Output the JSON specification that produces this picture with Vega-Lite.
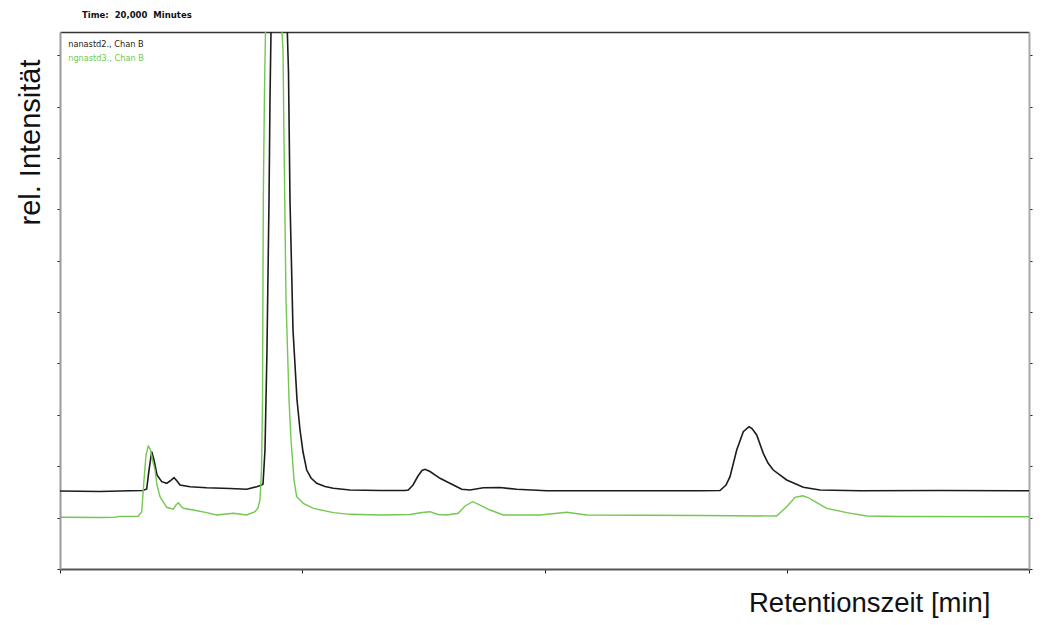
{
  "$schema": "https://vega.github.io/schema/vega-lite/v6.json",
  "width": 969,
  "height": 537,
  "autosize": {"type": "none"},
  "padding": {"left": 60, "top": 32, "right": 22, "bottom": 56},
  "background": "white",
  "config": {
    "view": {"stroke": null},
    "font": "Liberation Sans"
  },
  "title": {
    "text": "Time:\u00a0\u00a020,000\u00a0\u00a0Minutes",
    "anchor": "start",
    "frame": "group",
    "dx": 22,
    "offset": 6,
    "baseline": "alphabetic",
    "fontSize": 8.5,
    "fontWeight": "bold",
    "font": "DejaVu Sans",
    "color": "#111"
  },
  "datasets": {
    "traces": [
      {"t": 0.0, "v": 1.518, "s": "nanastd2., Chan B"},
      {"t": 0.826, "v": 1.508, "s": "nanastd2., Chan B"},
      {"t": 1.445, "v": 1.524, "s": "nanastd2., Chan B"},
      {"t": 1.713, "v": 1.528, "s": "nanastd2., Chan B"},
      {"t": 1.789, "v": 1.557, "s": "nanastd2., Chan B"},
      {"t": 1.837, "v": 1.926, "s": "nanastd2., Chan B"},
      {"t": 1.893, "v": 2.283, "s": "nanastd2., Chan B"},
      {"t": 1.94, "v": 2.121, "s": "nanastd2., Chan B"},
      {"t": 2.002, "v": 1.829, "s": "nanastd2., Chan B"},
      {"t": 2.099, "v": 1.699, "s": "nanastd2., Chan B"},
      {"t": 2.202, "v": 1.668, "s": "nanastd2., Chan B"},
      {"t": 2.27, "v": 1.712, "s": "nanastd2., Chan B"},
      {"t": 2.353, "v": 1.777, "s": "nanastd2., Chan B"},
      {"t": 2.415, "v": 1.712, "s": "nanastd2., Chan B"},
      {"t": 2.477, "v": 1.635, "s": "nanastd2., Chan B"},
      {"t": 2.683, "v": 1.602, "s": "nanastd2., Chan B"},
      {"t": 3.028, "v": 1.582, "s": "nanastd2., Chan B"},
      {"t": 3.509, "v": 1.566, "s": "nanastd2., Chan B"},
      {"t": 3.853, "v": 1.551, "s": "nanastd2., Chan B"},
      {"t": 4.06, "v": 1.601, "s": "nanastd2., Chan B"},
      {"t": 4.163, "v": 1.635, "s": "nanastd2., Chan B"},
      {"t": 4.19, "v": 1.654, "s": "nanastd2., Chan B"},
      {"t": 4.231, "v": 2.316, "s": "nanastd2., Chan B"},
      {"t": 4.272, "v": 4.262, "s": "nanastd2., Chan B"},
      {"t": 4.314, "v": 7.18, "s": "nanastd2., Chan B"},
      {"t": 4.334, "v": 9.126, "s": "nanastd2., Chan B"},
      {"t": 4.355, "v": 10.45, "s": "nanastd2., Chan B"},
      {"t": 4.52, "v": 14.0, "s": "nanastd2., Chan B"},
      {"t": 4.685, "v": 10.68, "s": "nanastd2., Chan B"},
      {"t": 4.716, "v": 9.671, "s": "nanastd2., Chan B"},
      {"t": 4.747, "v": 7.18, "s": "nanastd2., Chan B"},
      {"t": 4.809, "v": 4.651, "s": "nanastd2., Chan B"},
      {"t": 4.892, "v": 3.289, "s": "nanastd2., Chan B"},
      {"t": 4.954, "v": 2.705, "s": "nanastd2., Chan B"},
      {"t": 5.016, "v": 2.277, "s": "nanastd2., Chan B"},
      {"t": 5.092, "v": 1.926, "s": "nanastd2., Chan B"},
      {"t": 5.181, "v": 1.771, "s": "nanastd2., Chan B"},
      {"t": 5.298, "v": 1.668, "s": "nanastd2., Chan B"},
      {"t": 5.47, "v": 1.605, "s": "nanastd2., Chan B"},
      {"t": 5.641, "v": 1.57, "s": "nanastd2., Chan B"},
      {"t": 5.986, "v": 1.537, "s": "nanastd2., Chan B"},
      {"t": 6.605, "v": 1.528, "s": "nanastd2., Chan B"},
      {"t": 7.121, "v": 1.528, "s": "nanastd2., Chan B"},
      {"t": 7.189, "v": 1.537, "s": "nanastd2., Chan B"},
      {"t": 7.286, "v": 1.635, "s": "nanastd2., Chan B"},
      {"t": 7.389, "v": 1.81, "s": "nanastd2., Chan B"},
      {"t": 7.472, "v": 1.917, "s": "nanastd2., Chan B"},
      {"t": 7.534, "v": 1.94, "s": "nanastd2., Chan B"},
      {"t": 7.637, "v": 1.897, "s": "nanastd2., Chan B"},
      {"t": 7.843, "v": 1.765, "s": "nanastd2., Chan B"},
      {"t": 8.118, "v": 1.635, "s": "nanastd2., Chan B"},
      {"t": 8.291, "v": 1.551, "s": "nanastd2., Chan B"},
      {"t": 8.462, "v": 1.537, "s": "nanastd2., Chan B"},
      {"t": 8.737, "v": 1.582, "s": "nanastd2., Chan B"},
      {"t": 9.082, "v": 1.586, "s": "nanastd2., Chan B"},
      {"t": 9.426, "v": 1.551, "s": "nanastd2., Chan B"},
      {"t": 10.045, "v": 1.524, "s": "nanastd2., Chan B"},
      {"t": 11.146, "v": 1.522, "s": "nanastd2., Chan B"},
      {"t": 13.21, "v": 1.524, "s": "nanastd2., Chan B"},
      {"t": 13.622, "v": 1.528, "s": "nanastd2., Chan B"},
      {"t": 13.746, "v": 1.635, "s": "nanastd2., Chan B"},
      {"t": 13.829, "v": 1.796, "s": "nanastd2., Chan B"},
      {"t": 13.967, "v": 2.316, "s": "nanastd2., Chan B"},
      {"t": 14.103, "v": 2.672, "s": "nanastd2., Chan B"},
      {"t": 14.221, "v": 2.769, "s": "nanastd2., Chan B"},
      {"t": 14.283, "v": 2.734, "s": "nanastd2., Chan B"},
      {"t": 14.38, "v": 2.608, "s": "nanastd2., Chan B"},
      {"t": 14.516, "v": 2.251, "s": "nanastd2., Chan B"},
      {"t": 14.613, "v": 2.063, "s": "nanastd2., Chan B"},
      {"t": 14.722, "v": 1.926, "s": "nanastd2., Chan B"},
      {"t": 14.999, "v": 1.732, "s": "nanastd2., Chan B"},
      {"t": 15.341, "v": 1.59, "s": "nanastd2., Chan B"},
      {"t": 15.686, "v": 1.537, "s": "nanastd2., Chan B"},
      {"t": 16.512, "v": 1.524, "s": "nanastd2., Chan B"},
      {"t": 18.163, "v": 1.528, "s": "nanastd2., Chan B"},
      {"t": 20.0, "v": 1.522, "s": "nanastd2., Chan B"},

      {"t": 0.02, "v": 1.006, "s": "ngnastd3., Chan B"},
      {"t": 0.826, "v": 1.002, "s": "ngnastd3., Chan B"},
      {"t": 1.135, "v": 1.008, "s": "ngnastd3., Chan B"},
      {"t": 1.238, "v": 1.025, "s": "ngnastd3., Chan B"},
      {"t": 1.61, "v": 1.025, "s": "ngnastd3., Chan B"},
      {"t": 1.686, "v": 1.109, "s": "ngnastd3., Chan B"},
      {"t": 1.734, "v": 1.732, "s": "ngnastd3., Chan B"},
      {"t": 1.775, "v": 2.218, "s": "ngnastd3., Chan B"},
      {"t": 1.822, "v": 2.393, "s": "ngnastd3., Chan B"},
      {"t": 1.868, "v": 2.316, "s": "ngnastd3., Chan B"},
      {"t": 1.92, "v": 2.082, "s": "ngnastd3., Chan B"},
      {"t": 1.961, "v": 1.926, "s": "ngnastd3., Chan B"},
      {"t": 2.002, "v": 1.635, "s": "ngnastd3., Chan B"},
      {"t": 2.064, "v": 1.407, "s": "ngnastd3., Chan B"},
      {"t": 2.202, "v": 1.201, "s": "ngnastd3., Chan B"},
      {"t": 2.338, "v": 1.162, "s": "ngnastd3., Chan B"},
      {"t": 2.394, "v": 1.245, "s": "ngnastd3., Chan B"},
      {"t": 2.442, "v": 1.29, "s": "ngnastd3., Chan B"},
      {"t": 2.497, "v": 1.226, "s": "ngnastd3., Chan B"},
      {"t": 2.545, "v": 1.181, "s": "ngnastd3., Chan B"},
      {"t": 2.751, "v": 1.148, "s": "ngnastd3., Chan B"},
      {"t": 3.028, "v": 1.096, "s": "ngnastd3., Chan B"},
      {"t": 3.234, "v": 1.051, "s": "ngnastd3., Chan B"},
      {"t": 3.577, "v": 1.084, "s": "ngnastd3., Chan B"},
      {"t": 3.853, "v": 1.051, "s": "ngnastd3., Chan B"},
      {"t": 4.025, "v": 1.115, "s": "ngnastd3., Chan B"},
      {"t": 4.087, "v": 1.187, "s": "ngnastd3., Chan B"},
      {"t": 4.128, "v": 1.343, "s": "ngnastd3., Chan B"},
      {"t": 4.159, "v": 1.926, "s": "ngnastd3., Chan B"},
      {"t": 4.18, "v": 3.289, "s": "ngnastd3., Chan B"},
      {"t": 4.196, "v": 7.18, "s": "ngnastd3., Chan B"},
      {"t": 4.221, "v": 9.321, "s": "ngnastd3., Chan B"},
      {"t": 4.241, "v": 10.45, "s": "ngnastd3., Chan B"},
      {"t": 4.396, "v": 14.0, "s": "ngnastd3., Chan B"},
      {"t": 4.572, "v": 10.59, "s": "ngnastd3., Chan B"},
      {"t": 4.603, "v": 10.1, "s": "ngnastd3., Chan B"},
      {"t": 4.623, "v": 8.348, "s": "ngnastd3., Chan B"},
      {"t": 4.665, "v": 5.234, "s": "ngnastd3., Chan B"},
      {"t": 4.727, "v": 3.289, "s": "ngnastd3., Chan B"},
      {"t": 4.768, "v": 2.51, "s": "ngnastd3., Chan B"},
      {"t": 4.83, "v": 1.732, "s": "ngnastd3., Chan B"},
      {"t": 4.885, "v": 1.407, "s": "ngnastd3., Chan B"},
      {"t": 5.022, "v": 1.278, "s": "ngnastd3., Chan B"},
      {"t": 5.228, "v": 1.181, "s": "ngnastd3., Chan B"},
      {"t": 5.641, "v": 1.096, "s": "ngnastd3., Chan B"},
      {"t": 5.986, "v": 1.064, "s": "ngnastd3., Chan B"},
      {"t": 6.605, "v": 1.051, "s": "ngnastd3., Chan B"},
      {"t": 7.224, "v": 1.061, "s": "ngnastd3., Chan B"},
      {"t": 7.472, "v": 1.099, "s": "ngnastd3., Chan B"},
      {"t": 7.637, "v": 1.115, "s": "ngnastd3., Chan B"},
      {"t": 7.802, "v": 1.061, "s": "ngnastd3., Chan B"},
      {"t": 7.981, "v": 1.051, "s": "ngnastd3., Chan B"},
      {"t": 8.221, "v": 1.084, "s": "ngnastd3., Chan B"},
      {"t": 8.359, "v": 1.226, "s": "ngnastd3., Chan B"},
      {"t": 8.518, "v": 1.31, "s": "ngnastd3., Chan B"},
      {"t": 8.669, "v": 1.245, "s": "ngnastd3., Chan B"},
      {"t": 8.875, "v": 1.148, "s": "ngnastd3., Chan B"},
      {"t": 9.15, "v": 1.051, "s": "ngnastd3., Chan B"},
      {"t": 9.907, "v": 1.051, "s": "ngnastd3., Chan B"},
      {"t": 10.32, "v": 1.09, "s": "ngnastd3., Chan B"},
      {"t": 10.458, "v": 1.103, "s": "ngnastd3., Chan B"},
      {"t": 10.871, "v": 1.051, "s": "ngnastd3., Chan B"},
      {"t": 13.21, "v": 1.041, "s": "ngnastd3., Chan B"},
      {"t": 14.793, "v": 1.031, "s": "ngnastd3., Chan B"},
      {"t": 14.881, "v": 1.109, "s": "ngnastd3., Chan B"},
      {"t": 14.999, "v": 1.212, "s": "ngnastd3., Chan B"},
      {"t": 15.17, "v": 1.395, "s": "ngnastd3., Chan B"},
      {"t": 15.329, "v": 1.426, "s": "ngnastd3., Chan B"},
      {"t": 15.439, "v": 1.391, "s": "ngnastd3., Chan B"},
      {"t": 15.548, "v": 1.329, "s": "ngnastd3., Chan B"},
      {"t": 15.825, "v": 1.181, "s": "ngnastd3., Chan B"},
      {"t": 16.237, "v": 1.096, "s": "ngnastd3., Chan B"},
      {"t": 16.65, "v": 1.031, "s": "ngnastd3., Chan B"},
      {"t": 17.337, "v": 1.022, "s": "ngnastd3., Chan B"},
      {"t": 20.0, "v": 1.016, "s": "ngnastd3., Chan B"}
    ]
  },
  "data": {"name": "traces"},
  "resolve": {"axis": {"x": "independent", "y": "independent"}},
  "layer": [
    {
      "transform": [{"filter": "datum.s === 'nanastd2., Chan B'"}],
      "mark": {"type": "line", "clip": true, "strokeWidth": 1.6, "interpolate": "linear"},
      "encoding": {
        "x": {
          "field": "t", "type": "quantitative",
          "scale": {"domain": [0, 20], "nice": false, "zero": false},
          "axis": {
            "orient": "bottom",
            "values": [0, 5, 10, 15, 20],
            "labels": false,
            "grid": false,
            "domainColor": "#555555", "domainWidth": 2,
            "tickColor": "#222222", "tickSize": 4, "tickWidth": 1,
            "title": "Retentionszeit [min]",
            "titleFont": "Liberation Sans", "titleFontSize": 27.5, "titleFontWeight": "normal",
            "titleColor": "#111111",
            "titleAnchor": "end", "titleAlign": "right", "titleBaseline": "alphabetic",
            "titleX": 930, "titleY": 42
          }
        },
        "y": {
          "field": "v", "type": "quantitative",
          "scale": {"domain": [0, 10.45], "nice": false, "zero": false},
          "axis": {
            "orient": "left",
            "values": [0, 1, 2, 3, 4, 5, 6, 7, 8, 9, 10],
            "labels": false,
            "grid": false,
            "domainColor": "#9a9a9a", "domainWidth": 2,
            "tickColor": "#222222", "tickSize": 3, "tickWidth": 1,
            "title": "rel. Intensität",
            "titleFont": "Liberation Sans", "titleFontSize": 29, "titleFontWeight": "normal",
            "titleColor": "#111111",
            "titleAngle": -90, "titleAlign": "center", "titleBaseline": "alphabetic",
            "titleX": -21, "titleY": 110
          }
        },
        "color": {
          "field": "s", "type": "nominal",
          "scale": {"domain": ["nanastd2., Chan B", "ngnastd3., Chan B"], "range": ["#1c1c1c", "#72c850"]},
          "legend": {
            "title": null,
            "orient": "none",
            "legendX": 0,
            "legendY": 9,
            "padding": 0,
            "symbolSize": 0,
            "symbolOpacity": 0,
            "symbolStrokeWidth": 0,
            "labelOffset": 0,
            "labelFont": "DejaVu Sans",
            "labelFontSize": 8.2,
            "rowPadding": 4.5,
            "encode": {"labels": {"update": {"fill": {"scale": "color", "field": "value"}}}}
          }
        }
      }
    },
    {
      "transform": [{"filter": "datum.s === 'ngnastd3., Chan B'"}],
      "mark": {"type": "line", "clip": true, "strokeWidth": 1.4, "interpolate": "linear"},
      "encoding": {
        "x": {
          "field": "t", "type": "quantitative",
          "axis": {
            "orient": "top",
            "labels": false, "ticks": false, "grid": false,
            "domainColor": "#333333", "domainWidth": 1.5,
            "title": null
          }
        },
        "y": {
          "field": "v", "type": "quantitative",
          "axis": {
            "orient": "right",
            "values": [0, 1, 2, 3, 4, 5, 6, 7, 8, 9, 10],
            "labels": false, "grid": false,
            "domainColor": "#a8a8a8", "domainWidth": 2,
            "tickColor": "#222222", "tickSize": 3, "tickWidth": 1,
            "title": null
          }
        },
        "color": {"field": "s", "type": "nominal"}
      }
    }
  ]
}
